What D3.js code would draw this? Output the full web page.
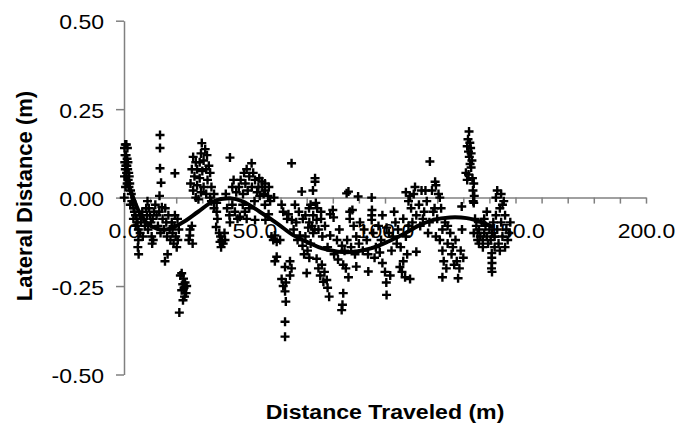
<!DOCTYPE html>
<html>
<head>
<meta charset="utf-8">
<script src="https://cdn.jsdelivr.net/npm/d3@7"></script>
<style>
  body { margin: 0; background: #fff; }
  svg { display: block; font-family: "Liberation Sans", Arial, sans-serif; }
</style>
</head>
<body>
<div id="chart"></div>
<script>
// distance traveled (m), lateral distance (m)
const scatterPoints = [
  // start, near the axis
  [0.2,0.14],[0.5,0.15],[0.9,0.15],[1.3,0.14],[0.4,0.12],[0.8,0.12],[1.2,0.11],[0.3,0.10],[0.7,0.09],[1.1,0.09],
  [1.5,0.10],[0.5,0.08],[1.0,0.07],[1.4,0.08],[1.8,0.07],[0.2,0.06],[1.6,0.05],[2.0,0.06],[2.2,0.04],[1.2,0.04],
  [0.6,0.03],[1.9,0.03],[2.5,0.02],[0.1,0.00],[2.8,0.01],[3.0,-0.01],[2.4,-0.02],[3.4,-0.02],[3.7,-0.03],[4.0,-0.04],
  [4.4,-0.05],[3.6,-0.06],[4.8,-0.06],[5.2,-0.07],[4.5,-0.08],
  [5.5,-0.09],[6.0,-0.05],[6.5,-0.07],[7.0,-0.04],[7.5,-0.06],[8.0,-0.08],[6.2,-0.10],[5.5,-0.12],[5.3,-0.14],[5.6,-0.16],
  [7.2,-0.11],[8.5,-0.03],[9.0,-0.01],[9.5,-0.03],[10.0,-0.05],[10.3,-0.07],[9.2,-0.09],[10.6,-0.11],[10.8,-0.13],[11.2,-0.12],
  [11.5,-0.04],[12.0,-0.02],[8.8,-0.05],[11.0,-0.06],
  [13.8,0.177],[13.8,0.14],[13.8,0.083],[14.2,0.042],[13.6,0.005],[14.5,-0.027],[19.5,0.069],
  [12.5,-0.05],[13.0,-0.08],[13.5,-0.04],[14.0,-0.10],[14.8,-0.06],[15.3,-0.09],[15.8,-0.03],[16.2,-0.07],[16.5,-0.11],
  [17.0,-0.05],[17.5,-0.09],[17.8,-0.12],[18.3,-0.07],[18.6,-0.10],[19.0,-0.13],[19.3,-0.08],[19.8,-0.11],[20.2,-0.14],
  [20.6,-0.12],[21.0,-0.09],[16.7,-0.16],[15.7,-0.18],[19.5,-0.05],[20.5,-0.06],
  [22.1,-0.214],[21.6,-0.22],[22.8,-0.229],[23.4,-0.24],[22.5,-0.245],[24.0,-0.25],[23.0,-0.255],[22.1,-0.262],[23.8,-0.27],
  [23.2,-0.28],[22.6,-0.29],[21.2,-0.325],
  [25.3,-0.09],[25.2,-0.107],[24.8,-0.12],[26.0,-0.08],[26.3,-0.13],
  [29.8,0.154],[31.1,0.137],[29.5,0.125],[31.8,0.12],[26.5,0.115],[27.5,0.10],[29.0,0.10],[30.5,0.105],[32.5,0.09],[26.0,0.08],
  [28.0,0.08],[30.0,0.075],[31.5,0.08],[33.0,0.07],[27.0,0.06],[29.0,0.055],[32.0,0.05],[25.5,0.04],[28.0,0.035],[30.5,0.03],
  [33.5,0.03],[26.5,0.02],[29.5,0.015],[31.5,0.01],[27.5,0.0],[33.0,0.0],[34.5,0.01],[28.5,-0.005],
  [33.5,-0.01],[34.5,-0.03],[35.5,-0.015],[35.5,-0.04],[35.8,-0.06],[35.3,-0.083],[36.5,-0.10],[37.0,-0.11],[37.5,-0.12],
  [38.0,-0.13],[37.2,-0.14],[38.5,-0.10],[36.8,-0.125],[38.7,-0.12],[39.5,-0.03],[40.4,-0.05],[40.6,-0.07],[41.5,-0.02],
  [42.5,-0.04],[43.5,-0.06],[44.4,-0.054],[46.3,-0.04],[45.5,-0.02],[50.2,-0.063],[48.0,-0.03],[47.0,-0.06],
  [40.6,0.113],[48.9,0.097],[47.0,0.08],[46.0,0.07],[42.0,0.05],[44.7,0.05],[50.2,0.05],[52.8,0.046],[54.0,0.04],[49.0,0.03],
  [51.5,0.03],[47.4,0.02],[43.0,0.015],[51.0,0.015],[54.0,0.02],[55.2,0.005],[52.0,0.005],[45.6,0.01],[50.0,-0.01],[54.0,-0.02],
  [56.0,-0.01],[48.0,0.06],[53.0,0.03],[46.5,0.04],[41.5,0.03],[49.5,0.07],[51.8,0.055],[55.5,0.03],[53.5,0.01],[44.0,0.03],
  [39.0,0.01],[57.5,0.0],
  [64.2,0.097],[68.1,0.017],[73.2,0.055],[73.2,0.045],[72.4,0.02],[85.3,0.012],[89.7,0.003],[94.9,0.0],[86.0,0.017],
  [57.2,-0.12],[57.8,-0.107],[59.8,-0.12],[54.2,-0.063],[55.4,-0.047],[60.4,-0.02],[63.0,-0.047],[67.0,-0.04],[70.9,-0.03],
  [71.5,-0.02],[64.3,-0.063],[65.0,-0.09],[67.4,-0.107],[70.6,-0.085],[73.8,-0.063],[68.4,-0.136],[70.3,-0.15],[58.5,-0.167],
  [57.8,-0.18],[63.6,-0.18],[61.7,-0.196],[64.2,-0.20],[63.6,-0.22],[60.4,-0.23],[62.0,-0.24],[61.0,-0.25],[61.7,-0.265],
  [62.0,-0.294],[61.7,-0.351],[61.7,-0.393],[70.0,-0.213],[56.5,-0.11],[58.5,-0.125],[62.5,-0.06],[66.0,-0.07],[68.5,-0.06],
  [69.5,-0.11],[66.5,-0.12],[71.5,-0.13],[72.5,-0.10],[69.0,-0.16],[71.0,-0.17],[65.5,-0.02],[61.0,-0.04],
  [69.5,-0.05],[71.0,-0.07],[72.0,-0.08],[74.5,-0.09],[75.5,-0.04],
  [73.8,-0.173],[75.8,-0.19],[75.2,-0.22],[76.4,-0.238],[78.0,-0.255],[78.6,-0.28],[83.7,-0.303],[83.4,-0.318],[84.0,-0.27],
  [77.7,-0.233],[74.5,-0.20],[76.8,-0.21],
  [79.0,-0.047],[80.3,-0.056],[80.0,-0.035],[79.0,-0.107],[81.6,-0.12],[83.5,-0.136],[82.0,-0.175],[84.0,-0.19],[86.0,-0.225],
  [85.0,-0.20],[89.0,-0.195],
  [74.0,-0.03],[75.5,-0.06],[73.0,-0.09],[76.0,-0.11],[77.0,-0.08],[78.0,-0.14],[80.5,-0.16],[82.5,-0.09],[84.5,-0.15],
  [86.5,-0.04],[86.5,-0.06],[87.5,-0.035],[88.0,-0.08],[89.0,-0.11],[90.4,-0.07],[85.5,-0.12],[87.0,-0.14],[88.5,-0.16],
  [90.0,-0.13],[73.5,-0.015],[72.5,-0.05],
  [93.6,-0.209],[99.0,-0.185],[100.0,-0.21],[100.5,-0.24],[102.0,-0.22],[100.6,-0.275],[105.7,-0.196],[106.5,-0.21],
  [107.7,-0.225],[106.0,-0.14],[108.5,-0.16],[109.6,-0.23],[107.0,-0.18],
  [94.9,-0.05],[94.9,-0.063],[92.0,-0.09],[93.0,-0.12],[95.5,-0.10],[96.5,-0.14],[97.5,-0.08],[98.5,-0.12],[100.6,-0.085],
  [101.5,-0.10],[103.0,-0.11],[104.0,-0.07],[105.0,-0.09],[96.0,-0.17],[98.0,-0.155],[102.5,-0.15],[104.5,-0.13],[91.5,-0.15],
  [93.5,-0.16],[95.0,-0.035],[99.0,-0.05],[103.5,-0.04],[107.0,-0.06],[108.0,-0.11],[109.0,-0.08],
  [108.0,0.015],[109.0,-0.01],[110.0,-0.03],[111.0,0.01],[112.0,-0.05],[113.0,-0.02],[114.0,0.02],[115.0,-0.04],[116.0,-0.01],
  [117.0,-0.07],[118.0,0.02],[119.0,-0.03],[120.0,-0.06],[121.0,0.0],[122.0,-0.09],[110.5,-0.07],[113.5,-0.08],[116.5,-0.1],
  [119.5,-0.11],[112.0,-0.153],[117.2,0.102],[119.2,0.045],[119.5,0.035],[111.5,0.03],[114.5,-0.06],[118.5,-0.04],
  [121.5,-0.03],[109.5,0.005],[115.5,0.02],[120.5,0.01],
  [121.0,-0.12],[122.0,-0.15],[122.5,-0.18],[122.0,-0.225],[123.5,-0.20],[124.0,-0.13],[125.0,-0.10],[125.5,-0.16],
  [126.0,-0.14],[127.0,-0.12],[127.5,-0.18],[128.0,-0.228],[128.5,-0.20],[129.0,-0.15],[129.5,-0.09],[130.0,-0.17],
  [124.0,-0.08],[126.5,-0.19],[129.4,-0.025],[123.0,-0.07],
  [132.2,0.187],[131.8,0.165],[132.5,0.155],[131.5,0.145],[132.8,0.14],[132.0,0.13],[133.0,0.125],[132.3,0.115],[133.3,0.105],
  [132.6,0.095],[133.0,0.085],[131.0,0.07],[132.0,0.065],[133.5,0.055],[134.0,0.04],[133.7,0.02],[134.2,0.005],[133.8,-0.01],
  [134.0,-0.015],[131.5,0.05],
  [134.5,-0.06],[135.0,-0.08],[135.5,-0.10],[136.0,-0.09],[136.5,-0.11],[137.0,-0.07],[137.5,-0.12],[138.0,-0.10],[138.5,-0.08],
  [139.0,-0.11],[139.5,-0.13],[140.0,-0.09],[140.5,-0.12],[141.0,-0.10],[141.5,-0.07],[142.0,-0.11],[142.5,-0.05],[143.0,-0.09],
  [143.5,-0.13],[144.0,-0.03],[144.5,-0.07],[145.0,-0.11],[145.5,-0.01],[146.0,-0.05],[146.5,-0.09],[147.0,-0.12],[143.0,0.02],
  [144.5,0.01],[142.5,0.0],[145.0,-0.02],
  [140.9,-0.157],[140.9,-0.17],[141.0,-0.185],[140.8,-0.2],[141.0,-0.21],[136.0,-0.13],[134.0,-0.10],[138.0,-0.06],
  [139.0,-0.04],[137.5,-0.14],[135.5,-0.12],[146.0,-0.14],[142.0,-0.14],[147.5,-0.1],[148.0,-0.07],[144.0,-0.15]
];

// smoothed fit
const fitDistance = [0.5, 3, 6.8, 10.6, 15.7, 22.1, 28.4, 34.1, 40.6, 45.6, 52, 58.5, 64.8, 71.3, 75.7,
  82.1, 88.5, 94.9, 101.3, 107.7, 112.1, 118.5, 124.9, 131.3, 136.4, 141];
const fitLateral = [0.06, 0.01, -0.054, -0.082, -0.091, -0.072, -0.04, -0.011, -0.002, -0.011, -0.04, -0.072,
  -0.106, -0.129, -0.143, -0.153, -0.153, -0.143, -0.124, -0.101, -0.082, -0.063, -0.056, -0.058, -0.068, -0.082];

const xTicks = [0, 10, 20, 30, 40, 50, 60, 70, 80, 90, 100, 110, 120, 130, 140, 150, 160, 170, 180, 190, 200];
const xLabelTicks = [0, 50, 100, 150, 200];
const yTicks = [-0.5, -0.25, 0, 0.25, 0.5];

const width = 678;
const height = 426;
const stretch = 1.15;   // text in the picture is a bit wider than normal

const svg = d3.select('#chart')
  .append('svg')
  .attr('width', width)
  .attr('height', height);

const x = d3.scaleLinear().domain([0, 200]).range([124, 646]);
const y = d3.scaleLinear().domain([-0.5, 0.5]).range([374.5, 20.7]);

// y axis
const yAxis = svg.append('g')
  .attr('transform', `translate(${x(0)},0)`)
  .call(d3.axisLeft(y).tickValues(yTicks).tickSize(8).tickSizeOuter(0)
    .tickFormat(d => d.toFixed(2)));
yAxis.selectAll('path, line').attr('stroke', '#808080').attr('stroke-width', 1.5);
yAxis.selectAll('text')
  .attr('x', 0)
  .attr('dy', '0.40em')
  .attr('transform', `translate(-20,0) scale(${stretch},1)`)
  .attr('font-size', 20)
  .attr('fill', '#000')
  .attr('font-family', '"Liberation Sans", Arial, sans-serif');

// x axis crossing at zero
const xAxis = svg.append('g')
  .attr('transform', `translate(0,${y(0)})`)
  .call(d3.axisBottom(x).tickValues(xTicks).tickSize(6).tickSizeOuter(0)
    .tickFormat(d => xLabelTicks.includes(d) ? d.toFixed(1) : ''));
xAxis.selectAll('path, line').attr('stroke', '#808080').attr('stroke-width', 1.5);
xAxis.selectAll('text')
  .attr('y', 0)
  .attr('dy', null)
  .attr('transform', `translate(0,40) scale(${stretch},1)`)
  .attr('font-size', 20)
  .attr('fill', '#000')
  .attr('font-family', '"Liberation Sans", Arial, sans-serif');

// scatter markers
svg.append('g')
  .selectAll('path')
  .data(scatterPoints)
  .enter()
  .append('path')
  .attr('transform', d => `translate(${x(d[0])},${y(d[1])})`)
  .attr('d', 'M-4.5,0H4.5M0,-4.5V4.5')
  .attr('stroke', '#000')
  .attr('stroke-width', 2.4)
  .attr('fill', 'none');

// fitted curve
const fit = fitDistance.map((d, i) => [d, fitLateral[i]]);
svg.append('path')
  .datum(fit)
  .attr('fill', 'none')
  .attr('stroke', '#000')
  .attr('stroke-width', 4)
  .attr('stroke-linecap', 'round')
  .attr('d', d3.line()
    .x(d => x(d[0]))
    .y(d => y(d[1]))
    .curve(d3.curveCatmullRom.alpha(0.5)));

// axis titles
svg.append('text')
  .attr('text-anchor', 'middle')
  .attr('transform', `translate(385,419) scale(1.1,1)`)
  .attr('font-size', 21)
  .attr('font-weight', 'bold')
  .text('Distance Traveled (m)');

svg.append('text')
  .attr('text-anchor', 'middle')
  .attr('transform', 'translate(32,196) rotate(-90)')
  .attr('font-size', 22)
  .attr('font-weight', 'bold')
  .text('Lateral Distance (m)');
</script>
</body>
</html>
